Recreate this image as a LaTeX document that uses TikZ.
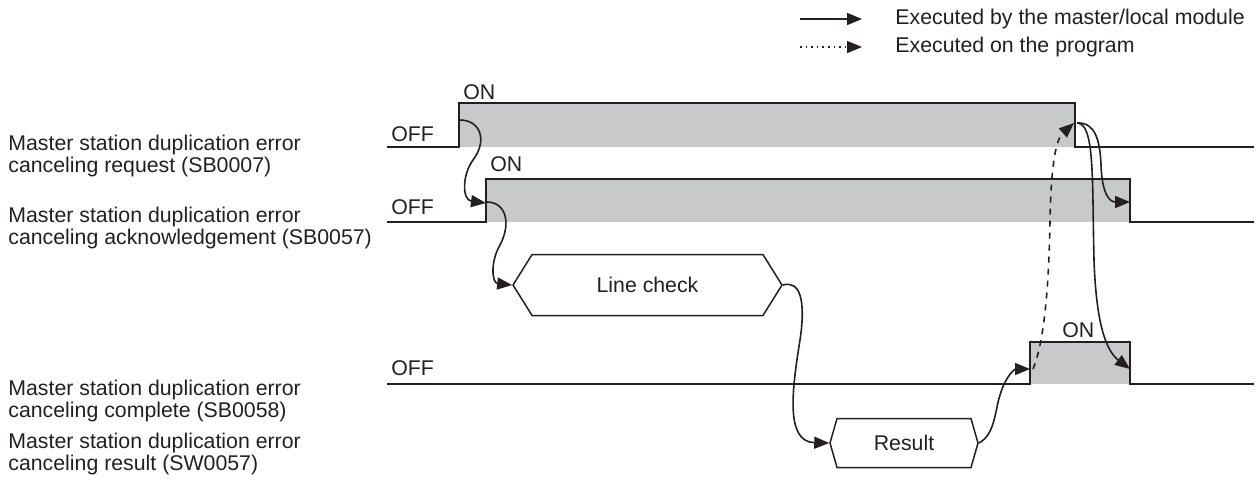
\documentclass[tikz,border=0pt]{standalone}
\usepackage{fontspec}
\setmainfont{Liberation Sans}
\usetikzlibrary{shapes.symbols,arrows.meta}
\definecolor{onfill}{RGB}{200,201,203}
\definecolor{inkline}{RGB}{35,31,32}

\begin{document}
\begin{tikzpicture}[x=0.5pt, y=-0.5pt,
  every node/.style={font=\fontsize{10.65}{11}\selectfont, text=inkline, inner sep=0pt},
  level/.style={draw=inkline, line width=0.9pt},
  flow/.style={draw=inkline, line width=0.8pt, -{Triangle[length=7.5pt,width=6pt]}},
  stage/.style={draw=inkline, line width=0.75pt, shape=signal, signal to=west and east, inner sep=0pt}]
  \useasboundingbox (0,0) rectangle (1256,479);
  % legend
  \coordinate (solid-a) at (800,19);
  \coordinate (solid-b) at (862,19);
  \coordinate (dot-a) at (800,47);
  \coordinate (dot-b) at (862,47);
  \draw[flow] (solid-a) -- (solid-b);
  \draw[flow, dotted] (dot-a) -- (dot-b);
  \node[anchor=west] (legend-solid) at (895,19) {Executed by the master/local module};
  \node[anchor=west] (legend-dot) at (895,47) {Executed on the program};
  % signal names
  \node[anchor=west, align=left] (name-req) at (8,156) {Master station duplication error\\canceling request (SB0007)};
  \node[anchor=west, align=left] (name-ack) at (8,228) {Master station duplication error\\canceling acknowledgement (SB0057)};
  \node[anchor=west, align=left] (name-cmp) at (8,401) {Master station duplication error\\canceling complete (SB0058)};
  \node[anchor=west, align=left] (name-res) at (8,454) {Master station duplication error\\canceling result (SW0057)};
  % SB0007
  \fill[onfill] (459,103) rectangle (1075,147);
  \draw[level] (387,147) -- (459,147) -- (459,103) -- (1075,103) -- (1075,147) -- (1254,147);
  \node[anchor=west] (off-req) at (391,134) {OFF};
  \node[anchor=west] (on-req) at (463,92) {ON};
  % SB0057
  \fill[onfill] (486,179) rectangle (1130,222);
  \draw[level] (387,222) -- (486,222) -- (486,179) -- (1130,179) -- (1130,222) -- (1254,222);
  \node[anchor=west] (off-ack) at (391,207) {OFF};
  \node[anchor=west] (on-ack) at (490,164) {ON};
  % SB0058
  \fill[onfill] (1030,342) rectangle (1130,384);
  \draw[level] (387,384) -- (1030,384) -- (1030,342) -- (1130,342) -- (1130,384) -- (1254,384);
  \node[anchor=west] (off-cmp) at (391,368) {OFF};
  \node[anchor=west] (on-cmp) at (1062,330) {ON};
  % stages
  \node[stage, signal pointer angle=116, minimum width=134.5pt, minimum height=30.5pt] (check) at (647.5,285) {Line check};
  \node[stage, signal pointer angle=148, minimum width=74pt, minimum height=24.5pt] (result) at (904,443) {Result};
  % edge points
  \coordinate (req-rise) at (460,120);
  \coordinate (ack-rise) at (486,203);
  \coordinate (ack-out) at (487,202);
  \coordinate (cmp-rise) at (1030,369);
  \coordinate (cmp-out) at (1033,369);
  \coordinate (req-fall) at (1074,123);
  \coordinate (req-out) at (1077,123);
  \coordinate (ack-fall) at (1130,202);
  \coordinate (cmp-fall) at (1130,369);
  % flow
  \draw[flow] (req-rise) .. controls (480,120) and (488,140) .. (473,160)
    .. controls (462,175) and (462,200) .. (ack-rise);
  \draw[flow] (ack-out) .. controls (505,202) and (512,222) .. (500,245)
    .. controls (490,262) and (492,283) .. (check.west);
  \draw[flow] (check.east) .. controls (800,280) and (806,300) .. (800,340)
    .. controls (792,390) and (785,442) .. (result.west);
  \draw[flow] (result.east) .. controls (995,435) and (995,410) .. (1000,395)
    .. controls (1006,375) and (1015,369) .. (cmp-rise);
  \draw[flow, dashed] (cmp-out) .. controls (1045,340) and (1049,280) .. (1050,220)
    .. controls (1051,170) and (1055,140) .. (req-fall);
  \draw[flow] (req-out) .. controls (1095,122) and (1100,140) .. (1101,165)
    .. controls (1102,195) and (1110,202) .. (ack-fall);
  \draw[flow] (req-out) .. controls (1095,123) and (1092,180) .. (1094,260)
    .. controls (1096,320) and (1105,350) .. (cmp-fall);
\end{tikzpicture}
\end{document}
